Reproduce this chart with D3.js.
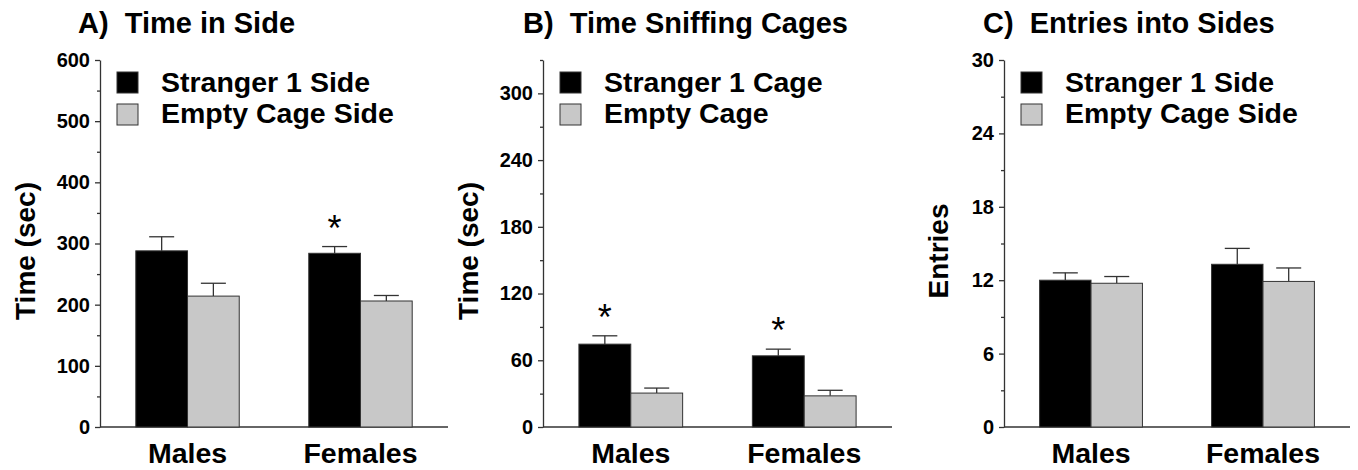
<!DOCTYPE html>
<html lang="en">
<head>
<meta charset="UTF-8">
<title>Three-chamber test</title>
<script src="https://d3js.org/d3.v7.min.js"></script>
<style>
  body { margin: 0; background: #fff; }
  text { font-family: "Liberation Sans", Arial, sans-serif; font-weight: bold; fill: #000; white-space: pre; }
  .axis path, .axis line { stroke: #333; stroke-width: 1.3; fill: none; }
  .axis text { font-size: 20px; }
</style>
</head>
<body>
<script>
// data
var groups = ["Males", "Females"];

var titles = ["A)  Time in Side", "B)  Time Sniffing Cages", "C)  Entries into Sides"];
var yTitles = ["Time (sec)", "Time (sec)", "Entries"];
var legendA = ["Stranger 1 Side", "Empty Cage Side"];
var legendB = ["Stranger 1 Cage", "Empty Cage"];
var legendC = ["Stranger 1 Side", "Empty Cage Side"];

// means [Males, Females] and upper error (mean + SEM)
var sideStranger = [288, 284], sideStrangerErr = [311, 295];
var sideEmpty = [214, 206], sideEmptyErr = [235, 215];
var sniffStranger = [74.5, 64], sniffStrangerErr = [82, 70];
var sniffEmpty = [30.5, 28], sniffEmptyErr = [35, 33];
var entStranger = [12.0, 13.3], entStrangerErr = [12.6, 14.6];
var entEmpty = [11.75, 11.9], entEmptyErr = [12.3, 13.0];

var ticksA = [0, 100, 200, 300, 400, 500, 600];
var minorA = [50, 150, 250, 350, 450, 550];
var ticksB = [0, 60, 120, 180, 240, 300];
var minorB = [30, 90, 150, 210, 270, 330];
var ticksC = [0, 6, 12, 18, 24, 30];
var minorC = [3, 9, 15, 21, 27];

// significance markers: [group index] per panel
var starsA = [1], starsB = [0, 1], starsC = [];

var svg = d3.select("body").append("svg")
  .attr("width", 1358).attr("height", 470);

var fills = ["#000000", "#c8c8c8"];

function drawPanel(p) {
  var g = svg.append("g");
  var y = d3.scaleLinear().domain([0, p.max]).range([427, 60]);
  var x = d3.scaleBand().domain(groups).range([p.x0, p.x1])
    .paddingInner(0.402).paddingOuter(0.207);
  var xs = d3.scaleBand().domain([0, 1]).range([0, x.bandwidth()]);

  // minor ticks
  g.append("g").attr("class", "axis")
    .attr("transform", "translate(" + p.x0 + ",0)")
    .call(d3.axisLeft(y).tickValues(p.minor).tickSize(3).tickFormat(""))
    .call(function(a) { a.select(".domain").remove(); });

  // major axis
  g.append("g").attr("class", "axis")
    .attr("transform", "translate(" + p.x0 + ",0)")
    .call(d3.axisLeft(y).tickValues(p.ticks).tickSize(5).tickSizeOuter(0).tickPadding(5));

  // x baseline
  g.append("line")
    .attr("x1", p.x0).attr("x2", p.x1)
    .attr("y1", y(0)).attr("y2", y(0))
    .attr("stroke", "#333").attr("stroke-width", 1.3);

  var series = [
    { vals: p.s1, err: p.e1 },
    { vals: p.s2, err: p.e2 }
  ];

  series.forEach(function(s, si) {
    var rows = groups.map(function(gr, i) { return { g: gr, v: s.vals[i], e: s.err[i] }; });
    var cx = function(d) { return x(d.g) + xs(si) + xs.bandwidth() / 2; };
    // error bars (upper half only)
    var eb = g.selectAll(".eb" + si).data(rows).enter().append("g");
    eb.append("line")
      .attr("x1", cx).attr("x2", cx)
      .attr("y1", function(d) { return y(d.v); })
      .attr("y2", function(d) { return y(d.e); })
      .attr("stroke", "#333").attr("stroke-width", 1.3);
    eb.append("line")
      .attr("x1", function(d) { return cx(d) - 12.5; })
      .attr("x2", function(d) { return cx(d) + 12.5; })
      .attr("y1", function(d) { return y(d.e); })
      .attr("y2", function(d) { return y(d.e); })
      .attr("stroke", "#333").attr("stroke-width", 1.3);

    g.selectAll(".bar" + si).data(rows).enter().append("rect")
      .attr("x", function(d) { return x(d.g) + xs(si); })
      .attr("y", function(d) { return y(d.v); })
      .attr("width", xs.bandwidth())
      .attr("height", function(d) { return y(0) - y(d.v); })
      .attr("fill", fills[si])
      .attr("stroke", "#333").attr("stroke-width", 1);
  });

  // asterisks over stranger bars
  g.selectAll(".star").data(p.stars).enter().append("text")
    .attr("x", function(i) { return x(groups[i]) + xs(0) + xs.bandwidth() / 2; })
    .attr("y", function(i) { return y(p.e1[i]) - 6; })
    .attr("text-anchor", "middle")
    .style("font-size", "36px").style("font-weight", "normal")
    .text("*");

  // group labels
  g.selectAll(".cat").data(groups).enter().append("text")
    .attr("x", function(d) { return x(d) + x.bandwidth() / 2; })
    .attr("y", 463)
    .attr("text-anchor", "middle")
    .style("font-size", "28.5px")
    .text(function(d) { return d; });

  // title
  g.append("text").attr("x", p.titleX).attr("y", 33)
    .style("font-size", "29px").text(p.title);

  // y title
  g.append("text")
    .attr("transform", "translate(" + p.yTitleX + ",251) rotate(-90)")
    .attr("text-anchor", "middle")
    .style("font-size", "28px")
    .text(p.yTitle);

  // legend
  p.legend.forEach(function(name, i) {
    g.append("rect")
      .attr("x", p.x0 + 17).attr("y", 72 + i * 32)
      .attr("width", 21).attr("height", 21)
      .attr("fill", fills[i]).attr("stroke", "#333").attr("stroke-width", 1);
    g.append("text")
      .attr("x", p.x0 + 61).attr("y", 92 + i * 31)
      .style("font-size", "28.5px")
      .text(name);
  });
}

drawPanel({ x0: 100, x1: 448, max: 600, ticks: ticksA, minor: minorA,
  s1: sideStranger, e1: sideStrangerErr, s2: sideEmpty, e2: sideEmptyErr,
  stars: starsA, title: titles[0], titleX: 78, yTitle: yTitles[0], yTitleX: 35, legend: legendA });

drawPanel({ x0: 543, x1: 892, max: 330, ticks: ticksB, minor: minorB,
  s1: sniffStranger, e1: sniffStrangerErr, s2: sniffEmpty, e2: sniffEmptyErr,
  stars: starsB, title: titles[1], titleX: 523, yTitle: yTitles[1], yTitleX: 478, legend: legendB });

drawPanel({ x0: 1004, x1: 1350, max: 30, ticks: ticksC, minor: minorC,
  s1: entStranger, e1: entStrangerErr, s2: entEmpty, e2: entEmptyErr,
  stars: starsC, title: titles[2], titleX: 983, yTitle: yTitles[2], yTitleX: 948, legend: legendC });
</script>
</body>
</html>
